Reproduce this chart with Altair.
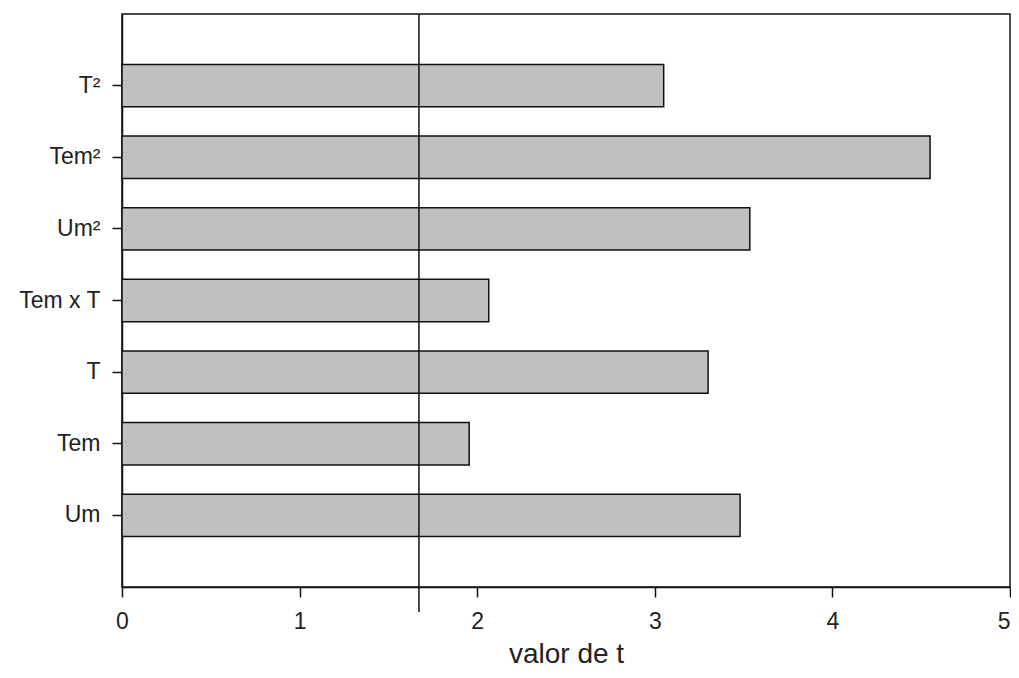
import altair as alt
import pandas as pd

categories = ["T²", "Tem²", "Um²", "Tem x T", "T", "Tem", "Um"]
t_values = [3.05, 4.55, 3.535, 2.065, 3.30, 1.955, 3.48]
t_critical = [1.672]
x_ticks = [0, 1, 2, 3, 4, 5]

df = pd.DataFrame({"var": categories, "t": t_values})
crit = pd.DataFrame({"t": t_critical})

FONT = "Liberation Sans"

x_scale = alt.Scale(domain=[0, 5], nice=False, zero=True)
x_axis = alt.Axis(values=x_ticks, title="valor de t", grid=False,
                  labelFlush=False, labelPadding=13,
                  labelAlign={"condition": {"test": "datum.value >= 5", "value": "right"},
                              "value": "center"},
                  titleFontSize=28, titlePadding=7, format="d")

bars = alt.Chart(df).mark_bar(
    fill="#c0c0c0", stroke="#111111", strokeWidth=1.5
).encode(
    x=alt.X("t:Q", scale=x_scale, axis=x_axis),
    y=alt.Y("var:N", sort=categories,
            scale=alt.Scale(paddingInner=0.41, paddingOuter=0.705),
            axis=alt.Axis(title=None, labelPadding=12)),
)

rule = alt.Chart(crit).mark_rule(color="#111111", strokeWidth=1.5).encode(
    x=alt.X("t:Q", scale=x_scale, axis=x_axis),
    y=alt.value(0),
    y2=alt.value(598),
)

chart = alt.layer(bars, rule).properties(
    width=888,
    height=573,
    autosize=alt.AutoSizeParams(type="none"),
    padding={"left": 114, "top": 6, "right": 1, "bottom": 83},
    background="white",
).configure_view(
    stroke="#111111", strokeWidth=1.5
).configure_axis(
    grid=False, tickSize=10, tickColor="#111", domainColor="#111",
    domainWidth=1.5, tickWidth=1.5,
    labelFont=FONT, labelFontSize=23, labelColor="#222",
    titleFont=FONT, titleFontWeight="normal", titleColor="#222",
)

chart.save("out.html", embed_options={"renderer": "svg", "actions": False})
